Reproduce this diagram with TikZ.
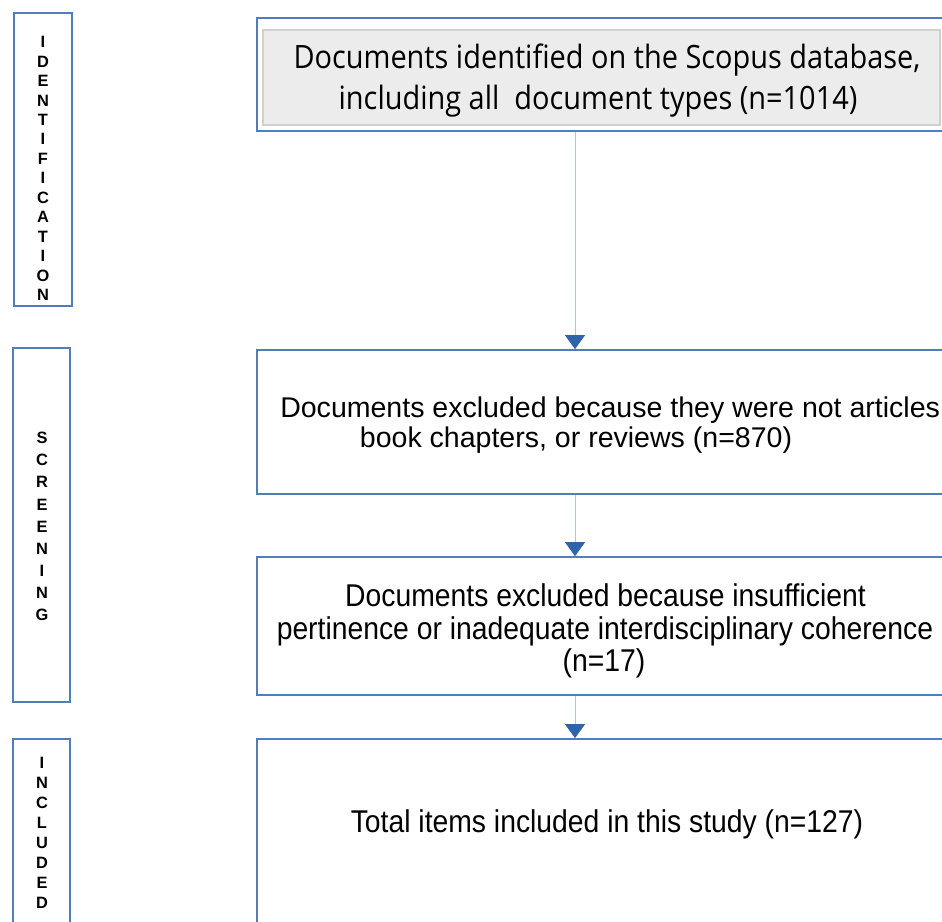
\documentclass[tikz,border=0pt]{standalone}
\usepackage{fontspec}
\setmainfont{Liberation Sans}
\newfontfamily\narrowf[FakeStretch=0.9]{Liberation Sans}
\newfontfamily\opensf[FakeStretch=0.9]{Open Sans}
\usetikzlibrary{arrows.meta,fit}
\definecolor{boxblue}{HTML}{4F7EBB}
\definecolor{linkblue}{HTML}{B0C4E4}
\definecolor{headblue}{HTML}{2F64AB}
\definecolor{grayfill}{HTML}{ECECEC}
\definecolor{grayline}{HTML}{D0D0D0}
\begin{document}
\begin{tikzpicture}[x=0.75pt,y=-0.75pt,
  frame/.style={draw=boxblue, line width=1.3pt, fill=white, inner sep=0pt},
  graybox/.style={draw=grayline, line width=0.8pt, fill=grayfill, inner sep=0pt},
  conn/.style={draw=linkblue, line width=0.75pt,
    -{Triangle[width=15pt,length=10.5pt,color=headblue]}},
  stagetxt/.style={font=\bfseries\fontsize{12.3}{#1}\selectfont, align=center, inner sep=0pt},
  opentxt/.style={font=\opensf\fontsize{24.1}{30}\selectfont, inner sep=0pt, anchor=base},
  regtxt/.style={font=\fontsize{21.4}{22.5}\selectfont, inner sep=0pt, anchor=base},
  nartxt/.style={font=\narrowf\fontsize{23.6}{25}\selectfont, inner sep=0pt, anchor=base}]
\useasboundingbox (0,0) rectangle (942,921);
\clip (0,0) rectangle (942,921);
\fill[white] (0,0) rectangle (942,921);
% stage boxes
\node[frame, fit={(14,13) (72,306)}] (s1) {};
\node[frame, fit={(13,348) (70,702)}] (s2) {};
\node[frame, fit={(13,739) (70,960)}] (s3) {};
\node[stagetxt=14.6] (l1) at (43,168.5) {I\\D\\E\\N\\T\\I\\F\\I\\C\\A\\T\\I\\O\\N};
\node[stagetxt=16.6] (l2) at (42,526.5) {S\\C\\R\\E\\E\\N\\I\\N\\G};
\node[stagetxt=15] (l3) at (42,833) {I\\N\\C\\L\\U\\D\\E\\D};
% main boxes
\node[frame, fit={(257,18) (1000,131)}] (b1) {};
\node[graybox, fit={(263,30) (940,125)}] (g1) {};
\node[frame, fit={(257,350) (1000,494)}] (b2) {};
\node[frame, fit={(257,557) (1000,695)}] (b3) {};
\node[frame, fit={(257,739) (1000,960)}] (b4) {};
% texts
\node[opentxt] (t1a) at (607,68) {Documents identified on the Scopus database,};
\node[opentxt] (t1b) at (598,109) {including all\ \ document types (n=1014)};
\node[regtxt, anchor=base west] (t2a) at (280,417) {Documents excluded because they were not articles};
\node[regtxt] (t2b) at (576,447) {book chapters, or reviews (n=870)};
\node[nartxt] (t3a) at (605.5,606) {Documents excluded because insufficient};
\node[nartxt] (t3b) at (605,639) {pertinence or inadequate interdisciplinary coherence};
\node[nartxt] (t3c) at (604,671) {(n=17)};
\node[nartxt] (t4) at (607,832) {Total items included in this study (n=127)};
% connectors
\coordinate (ax) at (575,0);
\draw[conn] (b1.south -| ax) -- (b2.north -| ax);
\draw[conn] (b2.south -| ax) -- (b3.north -| ax);
\draw[conn] (b3.south -| ax) -- (b4.north -| ax);
\end{tikzpicture}
\end{document}
